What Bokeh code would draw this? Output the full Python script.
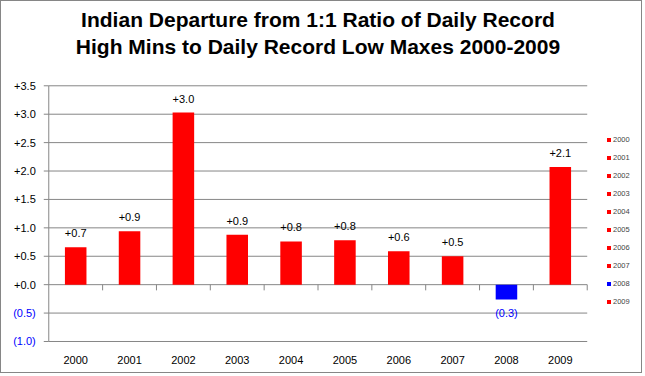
from bokeh.plotting import figure
from bokeh.models import (ColumnDataSource, FactorRange, LinearAxis, FixedTicker,
                          CustomJSTickFormatter, Title)
from bokeh.transform import dodge
from bokeh.embed import file_html
from bokeh.resources import INLINE
from bokeh.core.properties import value

years = ["2000", "2001", "2002", "2003", "2004", "2005", "2006", "2007", "2008", "2009"]
departures = [0.66, 0.94, 3.03, 0.88, 0.76, 0.78, 0.59, 0.50, -0.26, 2.07]
y_ticks = [-1.0, -0.5, 0.0, 0.5, 1.0, 1.5, 2.0, 2.5, 3.0, 3.5]
title_lines = ["Indian Departure from 1:1 Ratio of Daily Record",
               "High Mins to Daily Record Low Maxes 2000-2009"]

RED = "#FF0000"
BLUE = "#0000FF"
GRID = "#868686"
FONT = "Liberation Sans"

def fmt(v):
    return "+%.1f" % v if v >= 0 else "(%.1f)" % abs(v)

src = ColumnDataSource(dict(
    year=years,
    val=departures,
    color=[BLUE if v < 0 else RED for v in departures],
    label=[fmt(v) for v in departures],
    lcolor=[BLUE if v < 0 else "#000000" for v in departures],
    loff=[14 if v < 0 else -14 for v in departures],
))
grid_src = ColumnDataSource(dict(
    y=y_ticks,
    first=[years[0]] * len(y_ticks),
    last=[years[-1]] * len(y_ticks),
))
rule_src = ColumnDataSource(dict(
    first=[years[0]],
    bottom=[y_ticks[0]],
    top=[y_ticks[-1]],
))

p = figure(width=642, height=373,
           x_range=FactorRange(*years, range_padding=0.878, range_padding_units="absolute"),
           y_range=(y_ticks[0] - 0.141, y_ticks[-1] + 0.146), output_backend="svg",
           toolbar_location=None, y_axis_location=None,
           min_border_left=0, min_border_right=9,
           min_border_top=76, min_border_bottom=25)
p.styles = {"border": "1px solid #868686"}
p.outline_line_color = None
p.background_fill_color = "white"
p.border_fill_color = "white"
p.xgrid.grid_line_color = None
p.ygrid.grid_line_color = None

# titles: first added sits closest to the plot
spacer = Title(text=" ", text_font_size="1px", standoff=16)
t2 = Title(text=title_lines[1], align="center", text_font=FONT, text_font_size="21px",
           text_font_style="bold", text_color="#000000", standoff=1)
t1 = Title(text=title_lines[0], align="center", text_font=FONT, text_font_size="21px",
           text_font_style="bold", text_color="#000000", standoff=4)
p.add_layout(spacer, "above")
p.add_layout(t2, "above")
p.add_layout(t1, "above")

# horizontal grid lines spanning the category area
p.segment(x0=dodge("first", -0.5, range=p.x_range), y0="y",
          x1=dodge("last", 0.5, range=p.x_range), y1="y",
          line_color=GRID, line_width=1, source=grid_src)

# value-axis rule and its outward tick marks
p.segment(x0=dodge("first", -0.5, range=p.x_range), y0="bottom",
          x1=dodge("first", -0.5, range=p.x_range), y1="top",
          line_color=GRID, line_width=1, source=rule_src)
p.segment(x0=dodge("first", -0.593, range=p.x_range), y0="y",
          x1=dodge("first", -0.5, range=p.x_range), y1="y",
          line_color=GRID, line_width=1, source=grid_src)

# category-boundary tick marks on the zero line
p.segment(x0=dodge("year", 0.5, range=p.x_range), y0=0,
          x1=dodge("year", 0.5, range=p.x_range), y1=-0.1,
          line_color=GRID, line_width=1, source=src)

r = p.vbar(x="year", top="val", width=0.4, color="color", line_color=None,
           source=src, legend_field="year")

p.text(x="year", y="val", text="label", text_color="lcolor", y_offset="loff",
       text_align="center", text_baseline="middle", text_font=value(FONT),
       text_font_size="11px", source=src)

# x axis
xa = p.xaxis[0]
xa.axis_line_color = None
xa.major_tick_line_color = None
xa.major_tick_out = 0
xa.major_tick_in = 0
xa.major_label_standoff = 6
xa.major_label_text_font = FONT
xa.major_label_text_font_size = "11px"
xa.major_label_text_color = "#000000"

def make_axis(ticks, code, color):
    ax = LinearAxis(fixed_location=0.0, ticker=FixedTicker(ticks=ticks),
                    formatter=CustomJSTickFormatter(code=code),
                    bounds=(y_ticks[0], y_ticks[-1]))
    ax.axis_line_color = None
    ax.major_tick_line_color = None
    ax.major_tick_out = 5
    ax.major_tick_in = 0
    ax.minor_tick_line_color = None
    ax.major_label_standoff = 8
    ax.major_label_text_font = FONT
    ax.major_label_text_font_size = "11px"
    ax.major_label_text_color = color
    return ax

ya = make_axis([t for t in y_ticks if t >= 0],
               "return '+' + tick.toFixed(1);", "#000000")
neg = make_axis([t for t in y_ticks if t < 0],
                "return '(' + Math.abs(tick).toFixed(1) + ')';", BLUE)
p.add_layout(ya, "left")
p.add_layout(neg, "left")

# legend
leg = p.legend[0]
leg.location = (605, 43)
leg.orientation = "vertical"
leg.padding = 0
leg.margin = 0
leg.spacing = 8
leg.glyph_width = 5
leg.glyph_height = 5
leg.label_height = 10
leg.label_standoff = 2
leg.label_text_font = FONT
leg.label_text_font_size = "7.5px"
leg.border_line_color = None
leg.background_fill_alpha = 0

open("out.html", "w").write(file_html(p, INLINE))
